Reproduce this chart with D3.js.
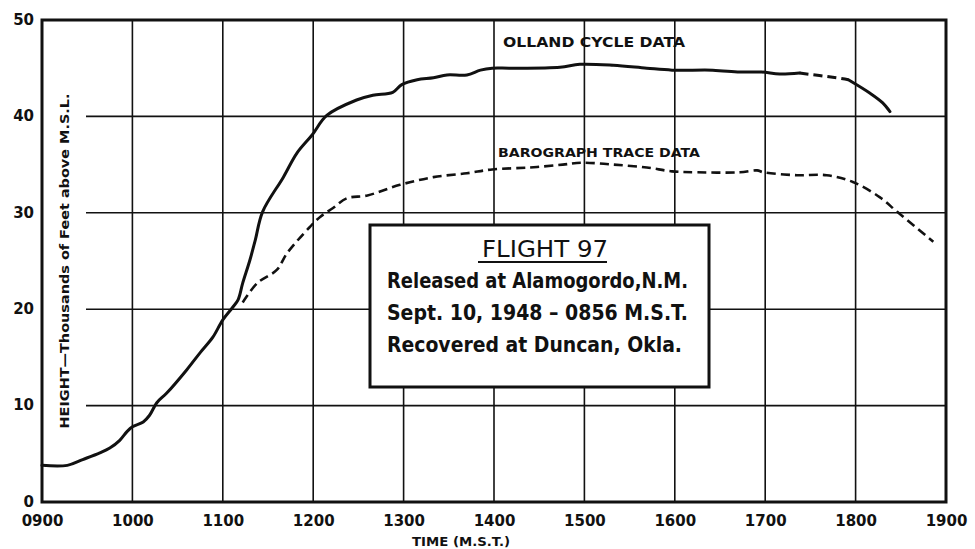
<!DOCTYPE html>
<html>
<head>
<meta charset="utf-8">
<script src="https://cdn.jsdelivr.net/npm/d3@7"></script>
<style>
  html, body { margin: 0; padding: 0; background: #fff; }
  svg { display: block; }
  text { fill: #111; }
</style>
</head>
<body>
<svg id="chart" width="975" height="549"></svg>
<script>
// Flight 97 — altitude against time of day (hours, M.S.T.), heights in thousands of feet.
const hourTicks = [9, 10, 11, 12, 13, 14, 15, 16, 17, 18, 19];
const heightTicks = [0, 10, 20, 30, 40, 50];

// Olland cycle data
const ollandTime = [9.00, 9.28, 9.45, 9.64, 9.75, 9.86, 9.94, 10.00, 10.12, 10.19, 10.27, 10.38,
  10.60, 10.75, 10.89, 11.00, 11.11, 11.17, 11.22, 11.30, 11.36, 11.44, 11.67, 11.82, 11.99,
  12.15, 12.48, 12.66, 12.88, 12.98, 13.15, 13.33, 13.48, 13.70, 13.85, 13.98, 14.18, 14.73,
  14.95, 15.32, 15.69, 15.97, 16.42, 16.72, 16.96, 17.16, 17.38, 17.79, 17.92, 18.16, 18.30, 18.38];
const ollandHeight = [3.8, 3.8, 4.4, 5.1, 5.6, 6.4, 7.3, 7.8, 8.3, 9.0, 10.3, 11.3,
  13.7, 15.5, 17.1, 18.9, 20.2, 21.0, 22.7, 25.1, 27.2, 30.1, 33.7, 36.2, 38.1,
  40.1, 41.7, 42.2, 42.5, 43.3, 43.8, 44.0, 44.3, 44.3, 44.8, 45.0, 45.0, 45.1,
  45.4, 45.3, 45.0, 44.8, 44.8, 44.6, 44.6, 44.4, 44.5, 44.0, 43.8, 42.4, 41.4, 40.5];
// stretch of the cycle record that is only estimated (drawn dashed)
const ollandEstimated = [17.38, 17.92];

// Barograph trace data
const baroTime = [11.22, 11.38, 11.60, 11.71, 11.96, 12.08, 12.22, 12.37, 12.60, 12.96, 13.33,
  13.70, 13.98, 14.40, 14.76, 14.97, 15.32, 15.69, 15.97, 16.25, 16.72, 16.91, 16.98, 17.35,
  17.68, 17.97, 18.27, 18.46, 18.86];
const baroHeight = [20.7, 22.7, 24.1, 25.8, 28.5, 29.6, 30.5, 31.5, 31.8, 32.9, 33.7,
  34.1, 34.5, 34.7, 35.0, 35.2, 35.0, 34.7, 34.3, 34.2, 34.2, 34.4, 34.2, 33.9,
  33.9, 33.2, 31.6, 30.1, 27.0];

const flightNotes = [
  "Released at Alamogordo,N.M.",
  "Sept. 10, 1948 \u2013 0856 M.S.T.",
  "Recovered  at Duncan, Okla."
];

const svg = d3.select("#chart");
const plotLeft = 42, plotRight = 946, plotTop = 20, plotBottom = 502;

const x = d3.scaleLinear().domain([9, 19]).range([plotLeft, plotRight]);
const y = d3.scaleLinear().domain([0, 50]).range([plotBottom, plotTop]);

const tickFont = "'DejaVu Sans', sans-serif";

// grid
const grid = svg.append("g").attr("stroke", "#111").attr("stroke-width", 1.6);
grid.selectAll("line.v").data(hourTicks.slice(1, -1)).join("line")
  .attr("class", "v")
  .attr("x1", d => x(d)).attr("x2", d => x(d))
  .attr("y1", plotTop).attr("y2", plotBottom);
grid.selectAll("line.h").data(heightTicks.slice(1, -1)).join("line")
  .attr("class", "h")
  .attr("x1", 86).attr("x2", plotRight)
  .attr("y1", d => y(d)).attr("y2", d => y(d));

// frame
svg.append("rect")
  .attr("x", plotLeft).attr("y", plotTop)
  .attr("width", plotRight - plotLeft).attr("height", plotBottom - plotTop)
  .attr("fill", "none").attr("stroke", "#111").attr("stroke-width", 3);

// axes
const xAxis = d3.axisBottom(x).tickValues(hourTicks).tickSize(0).tickPadding(13)
  .tickFormat(d => String(d * 100).padStart(4, "0"));
const gx = svg.append("g").attr("transform", `translate(0,${plotBottom})`).call(xAxis);
gx.select(".domain").remove();
gx.selectAll("text").attr("font-family", tickFont).attr("font-weight", "bold")
  .attr("font-size", 15).attr("fill", "#111");

const yAxis = d3.axisLeft(y).tickValues(heightTicks).tickSize(0).tickPadding(8);
const gy = svg.append("g").attr("transform", `translate(${plotLeft},0)`).call(yAxis);
gy.select(".domain").remove();
gy.selectAll("text").attr("font-family", tickFont).attr("font-weight", "bold")
  .attr("font-size", 15).attr("dy", "0.28em").attr("fill", "#111");

// axis titles
svg.append("text")
  .attr("x", 461).attr("y", 546)
  .attr("text-anchor", "middle")
  .attr("font-family", tickFont).attr("font-weight", "bold").attr("font-size", 12)
  .attr("textLength", 98).attr("lengthAdjust", "spacingAndGlyphs")
  .text("TIME (M.S.T.)");

svg.append("text")
  .attr("transform", "translate(69,261) rotate(-90)")
  .attr("text-anchor", "middle")
  .attr("font-family", tickFont).attr("font-weight", "bold").attr("font-size", 12)
  .attr("textLength", 335).attr("lengthAdjust", "spacingAndGlyphs")
  .text("HEIGHT\u2014Thousands of Feet above M.S.L.");

// series
const olland = ollandTime.map((t, i) => ({ t, v: ollandHeight[i] }));
const baro = baroTime.map((t, i) => ({ t, v: baroHeight[i] }));

const line = d3.line().x(d => x(d.t)).y(d => y(d.v)).curve(d3.curveCatmullRom.alpha(0.5));

const inEstimate = d => d.t >= ollandEstimated[0] && d.t <= ollandEstimated[1];
const outside = d => d.t <= ollandEstimated[0] || d.t >= ollandEstimated[1];

svg.append("path")
  .attr("d", line.defined(outside)(olland))
  .attr("fill", "none").attr("stroke", "#111").attr("stroke-width", 3)
  .attr("stroke-linejoin", "round").attr("stroke-linecap", "round");

svg.append("path")
  .attr("d", line.defined(inEstimate)(olland))
  .attr("fill", "none").attr("stroke", "#111").attr("stroke-width", 3)
  .attr("stroke-dasharray", "9,5");

svg.append("path")
  .attr("d", line.defined(() => true)(baro))
  .attr("fill", "none").attr("stroke", "#111").attr("stroke-width", 2.6)
  .attr("stroke-dasharray", "9,5");

// series labels
svg.append("text")
  .attr("x", 503).attr("y", 47)
  .attr("font-family", tickFont).attr("font-weight", "bold").attr("font-size", 14)
  .attr("textLength", 182).attr("lengthAdjust", "spacingAndGlyphs")
  .text("OLLAND  CYCLE  DATA");

svg.append("text")
  .attr("x", 498).attr("y", 157)
  .attr("font-family", tickFont).attr("font-weight", "bold").attr("font-size", 13)
  .attr("textLength", 202).attr("lengthAdjust", "spacingAndGlyphs")
  .text("BAROGRAPH  TRACE  DATA");

// flight note box
const box = svg.append("g");
box.append("rect")
  .attr("x", 370).attr("y", 225).attr("width", 339).attr("height", 162)
  .attr("fill", "#fff").attr("stroke", "#111").attr("stroke-width", 3);

const boxFont = "'DejaVu Sans Condensed', 'DejaVu Sans', sans-serif";
box.append("text")
  .attr("x", 545).attr("y", 257).attr("text-anchor", "middle")
  .attr("font-family", boxFont).attr("font-size", 23)
  .attr("textLength", 126).attr("lengthAdjust", "spacingAndGlyphs")
  .text("FLIGHT 97");
box.append("line")
  .attr("x1", 478).attr("x2", 607).attr("y1", 262).attr("y2", 262)
  .attr("stroke", "#111").attr("stroke-width", 2.2);

const noteLen = [301, 301, 295];
box.selectAll("text.note").data(flightNotes).join("text")
  .attr("class", "note")
  .attr("x", 387).attr("y", (d, i) => 288 + i * 32)
  .attr("font-family", boxFont).attr("font-weight", "bold").attr("font-size", 21)
  .attr("textLength", (d, i) => noteLen[i]).attr("lengthAdjust", "spacingAndGlyphs")
  .text(d => d);
</script>
</body>
</html>
